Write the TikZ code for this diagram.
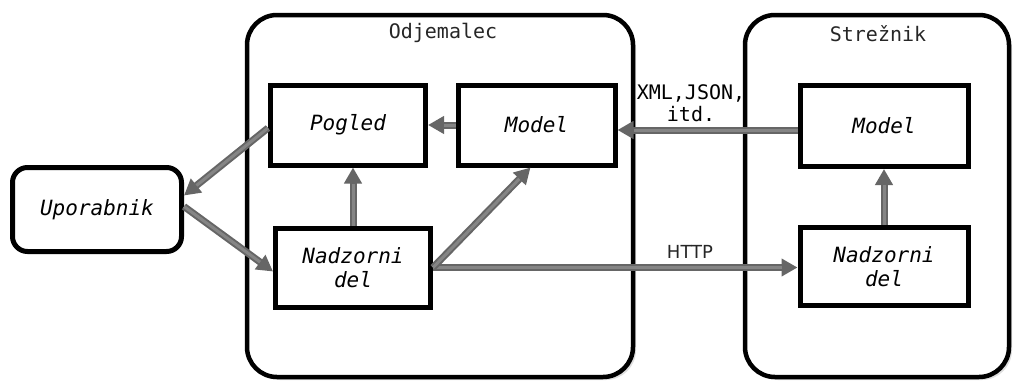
\documentclass[tikz,border=0pt]{standalone}
\usepackage{fontspec}
\setmonofont{DejaVu Sans Mono}
\newfontfamily\labelsans{DejaVu Sans}
\usetikzlibrary{arrows.meta,shadows}

\begin{document}
\begin{tikzpicture}[x=1pt,y=-1pt,
  tier/.style={draw=black, line width=4.5pt, rounded corners=30pt, fill=white,
    drop shadow={shadow xshift=3pt, shadow yshift=-3pt, opacity=0.25}},
  part/.style={draw=black, line width=5pt, fill=white, align=center,
    font=\ttfamily\itshape\fontsize{21}{24}\selectfont,
    drop shadow={shadow xshift=2pt, shadow yshift=-2pt, opacity=0.2}},
  actor/.style={part, rounded corners=15pt},
  tiertitle/.style={font=\ttfamily\fontsize{20}{24}\selectfont, text=black!85},
  flow/.style={-{Triangle[length=16pt,width=17pt]}, line width=7pt, draw=black!60,
    postaction={draw=black!48, line width=3pt, shorten >=16pt, -}},
  note/.style={font=\ttfamily\fontsize{20}{22}\selectfont, align=center},
]
\useasboundingbox (0,0) rectangle (1014,383);

% client and server tiers
\node[tier, minimum width=386pt, minimum height=362pt] (odj) at (440,196) {};
\node[tier, minimum width=264pt, minimum height=362pt] (str) at (877,196) {};
\node[tiertitle] (odjt) at (443,33) {Odjemalec};
\node[tiertitle] (strt) at (878,34) {Strežnik};

% user
\node[actor, minimum width=169pt, minimum height=84pt] (upo) at (97,209.5) {Uporabnik};

% client parts
\node[part, minimum width=155pt, minimum height=80pt] (pog) at (348,125) {Pogled};
\node[part, minimum width=157pt, minimum height=80pt] (mod) at (536.5,125) {Model};
\node[part, minimum width=155pt, minimum height=79pt] (nad) at (353,267.5) {Nadzorni\\del};

% server parts
\node[part, minimum width=168pt, minimum height=81pt] (smod) at (884,126) {Model};
\node[part, minimum width=168pt, minimum height=78pt] (snad) at (884,266.5) {Nadzorni\\del};

% connectors
\draw[flow] (mod.west) -- (pog.east);
\draw[flow] ([yshift=-4pt]smod.west) -- ([yshift=-4pt]smod.west -| mod.east);
\draw[flow] (nad.east) -- (nad.east -| snad.west);
\draw[flow] (nad.east) -- ([xshift=-6pt]mod.south);
\draw[flow] (nad.north) -- (nad.north |- pog.south);
\draw[flow] (snad.north) -- (snad.north |- smod.south);
\draw[flow] ([yshift=-3pt]pog.west) -- ([yshift=14pt]upo.east);
\draw[flow] ([yshift=3pt]upo.east) -- ([yshift=-4pt]nad.west);

% connector labels
\node[note] (fmt) at (691,103) {XML,JSON,\\itd.};
\node[font=\labelsans\fontsize{18}{20}\selectfont, text=black!85] (http) at (690,252) {HTTP};
\end{tikzpicture}
\end{document}
